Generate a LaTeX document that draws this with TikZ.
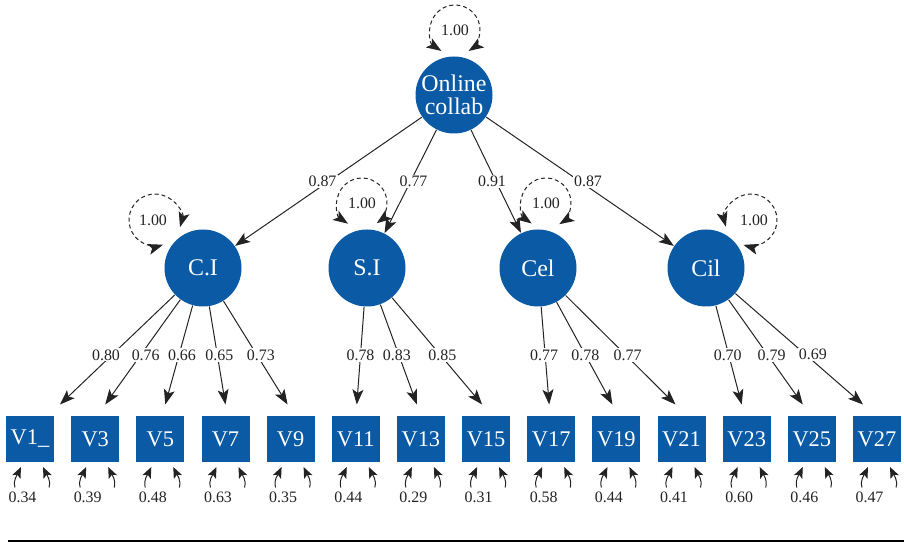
\documentclass[tikz,border=0pt]{standalone}
\usepackage{fontspec}
\setmainfont{Liberation Serif}
\usepackage{xcolor}
\usepackage{tikz}
\usetikzlibrary{arrows.meta,shapes}
\definecolor{nodeblue}{RGB}{10,90,165}
\definecolor{inkgray}{RGB}{35,35,35}

\begin{document}
\begin{tikzpicture}[>={Stealth[length=15bp,width=11bp,inset=3.5bp]}, line join=bevel, line width=1bp, draw=inkgray,
  latent/.style={circle,fill=nodeblue,text=white,minimum size=77bp,inner sep=0pt,font=\fontsize{24}{22.5}\selectfont},
  obs/.style={rectangle,fill=nodeblue,text=white,minimum width=48bp,minimum height=46bp,inner sep=0pt,font=\fontsize{22.5}{22}\selectfont},
  lab/.style={fill=white,inner sep=1.2bp,text=inkgray,font=\fontsize{16}{17}\selectfont},
  varlab/.style={inner sep=0pt,text=inkgray,font=\fontsize{16}{17}\selectfont},
  var/.style={<->,dash pattern=on 4bp off 3bp},
  res/.style={-{Stealth[length=11bp,width=9bp,inset=2.5bp]}}]
\useasboundingbox (0bp,0bp) rectangle (904bp,542bp);
%%
\node (online) at (454bp,447bp) [latent,align=center] {Online\\collab};
  \node (ci) at (203bp,274bp) [latent] {C.I};
  \node (si) at (367bp,274bp) [latent] {S.I};
  \node (cel) at (538bp,274bp) [latent] {Cel};
  \node (cil) at (706bp,274bp) [latent] {Cil};
%
  \node (v1) at (30.0bp,103bp) [obs] {V1\_};
  \node (v3) at (95.2bp,103bp) [obs] {V3};
  \node (v5) at (160.3bp,103bp) [obs] {V5};
  \node (v7) at (225.5bp,103bp) [obs] {V7};
  \node (v9) at (290.6bp,103bp) [obs] {V9};
  \node (v11) at (355.8bp,103bp) [obs] {V11};
  \node (v13) at (420.9bp,103bp) [obs] {V13};
  \node (v15) at (486.1bp,103bp) [obs] {V15};
  \node (v17) at (551.2bp,103bp) [obs] {V17};
  \node (v19) at (616.4bp,103bp) [obs] {V19};
  \node (v21) at (681.5bp,103bp) [obs] {V21};
  \node (v23) at (746.7bp,103bp) [obs] {V23};
  \node (v25) at (811.8bp,103bp) [obs] {V25};
  \node (v27) at (877.0bp,103bp) [obs] {V27};
%
  \draw [->] (online) -- (ci) node [lab,pos=0.5,xshift=-6bp] {0.87};
  \draw [->] (online) -- (si) node [lab,pos=0.5,xshift=3bp] {0.77};
  \draw [->] (online) -- (cel) node [lab,pos=0.5,xshift=-4bp] {0.91};
  \draw [->] (online) -- (cil) node [lab,pos=0.5,xshift=8bp] {0.87};
%
  \draw [->] (ci) -- ([shift={(30bp,11bp)}]v1.north) node [lab,pos=0.547,xshift=-6bp] {0.80};
  \draw [->] (ci) -- ([shift={(10bp,11bp)}]v3.north) node [lab,pos=0.527,xshift=5bp] {0.76};
  \draw [->] (ci) -- ([shift={(5bp,11bp)}]v5.north) node [lab,pos=0.499,xshift=3bp] {0.66};
  \draw [->] (ci) -- ([shift={(0bp,11bp)}]v7.north) node [lab,pos=0.495,xshift=2bp] {0.65};
  \draw [->] (ci) -- ([shift={(-3bp,11bp)}]v9.north) node [lab,pos=0.52,xshift=4bp] {0.73};
  \draw [->] (si) -- ([shift={(1bp,11bp)}]v11.north) node [lab,pos=0.493] {0.78};
  \draw [->] (si) -- ([shift={(-4bp,11bp)}]v13.north) node [lab,pos=0.504,xshift=-2bp] {0.83};
  \draw [->] (si) -- ([shift={(-4bp,11bp)}]v15.north) node [lab,pos=0.535,xshift=2bp] {0.85};
  \draw [->] (cel) -- ([shift={(-2bp,11bp)}]v17.north) node [lab,pos=0.493,xshift=-1bp] {0.77};
  \draw [->] (cel) -- ([shift={(-4bp,11bp)}]v19.north) node [lab,pos=0.515] {0.78};
  \draw [->] (cel) -- ([shift={(-6bp,11bp)}]v21.north) node [lab,pos=0.545,xshift=2bp] {0.77};
  \draw [->] (cil) -- ([shift={(-5bp,11bp)}]v23.north) node [lab,pos=0.498,xshift=-1bp] {0.70};
  \draw [->] (cil) -- ([shift={(-9bp,11bp)}]v25.north) node [lab,pos=0.527,xshift=4bp] {0.79};
  \draw [->] (cil) -- ([shift={(-14bp,11bp)}]v27.north) node [lab,pos=0.552,xshift=7bp] {0.69};
%% variances of the factors
  \coordinate (onlineloop) at (455bp,512bp);
  \coordinate (ciloop) at (155bp,322bp);
  \coordinate (siloop) at (362bp,339bp);
  \coordinate (celloop) at (546bp,339bp);
  \coordinate (cilloop) at (751bp,322bp);
  \draw [var] ([shift={(237:25bp)}]onlineloop) arc [start angle=237, end angle=-57, radius=25bp];
  \draw [var] ([shift={(-16:26bp)}]ciloop) arc [start angle=-16, end angle=288, radius=26bp];
  \draw [var] ([shift={(236:25bp)}]siloop) arc [start angle=236, end angle=-54, radius=25bp];
  \draw [var] ([shift={(235:25bp)}]celloop) arc [start angle=235, end angle=-58, radius=25bp];
  \draw [var] ([shift={(195:26bp)}]cilloop) arc [start angle=195, end angle=-107, radius=26bp];
  \node (onlinevar) at (onlineloop) [varlab] {1.00};
  \node (civar) at ([xshift=-2bp]ciloop) [varlab] {1.00};
  \node (sivar) at (siloop) [varlab] {1.00};
  \node (celvar) at (celloop) [varlab] {1.00};
  \node (cilvar) at ([xshift=3bp]cilloop) [varlab] {1.00};
%% residuals
  \draw [res] ([shift={(-15bp,-25bp)}]v1.south) to[out=105,in=-115] ([shift={(-9bp,-4.5bp)}]v1.south);
  \draw [res] ([shift={(19bp,-25bp)}]v1.south) to[out=75,in=-65] ([shift={(13bp,-4.5bp)}]v1.south);
  \node (e1) at ([shift={(-7.5bp,-35bp)}]v1.south) [varlab] {0.34};
  \draw [res] ([shift={(-15bp,-25bp)}]v3.south) to[out=105,in=-115] ([shift={(-9bp,-4.5bp)}]v3.south);
  \draw [res] ([shift={(19bp,-25bp)}]v3.south) to[out=75,in=-65] ([shift={(13bp,-4.5bp)}]v3.south);
  \node (e3) at ([shift={(-7.5bp,-35bp)}]v3.south) [varlab] {0.39};
  \draw [res] ([shift={(-15bp,-25bp)}]v5.south) to[out=105,in=-115] ([shift={(-9bp,-4.5bp)}]v5.south);
  \draw [res] ([shift={(19bp,-25bp)}]v5.south) to[out=75,in=-65] ([shift={(13bp,-4.5bp)}]v5.south);
  \node (e5) at ([shift={(-7.5bp,-35bp)}]v5.south) [varlab] {0.48};
  \draw [res] ([shift={(-15bp,-25bp)}]v7.south) to[out=105,in=-115] ([shift={(-9bp,-4.5bp)}]v7.south);
  \draw [res] ([shift={(19bp,-25bp)}]v7.south) to[out=75,in=-65] ([shift={(13bp,-4.5bp)}]v7.south);
  \node (e7) at ([shift={(-7.5bp,-35bp)}]v7.south) [varlab] {0.63};
  \draw [res] ([shift={(-15bp,-25bp)}]v9.south) to[out=105,in=-115] ([shift={(-9bp,-4.5bp)}]v9.south);
  \draw [res] ([shift={(19bp,-25bp)}]v9.south) to[out=75,in=-65] ([shift={(13bp,-4.5bp)}]v9.south);
  \node (e9) at ([shift={(-7.5bp,-35bp)}]v9.south) [varlab] {0.35};
  \draw [res] ([shift={(-15bp,-25bp)}]v11.south) to[out=105,in=-115] ([shift={(-9bp,-4.5bp)}]v11.south);
  \draw [res] ([shift={(19bp,-25bp)}]v11.south) to[out=75,in=-65] ([shift={(13bp,-4.5bp)}]v11.south);
  \node (e11) at ([shift={(-7.5bp,-35bp)}]v11.south) [varlab] {0.44};
  \draw [res] ([shift={(-15bp,-25bp)}]v13.south) to[out=105,in=-115] ([shift={(-9bp,-4.5bp)}]v13.south);
  \draw [res] ([shift={(19bp,-25bp)}]v13.south) to[out=75,in=-65] ([shift={(13bp,-4.5bp)}]v13.south);
  \node (e13) at ([shift={(-7.5bp,-35bp)}]v13.south) [varlab] {0.29};
  \draw [res] ([shift={(-15bp,-25bp)}]v15.south) to[out=105,in=-115] ([shift={(-9bp,-4.5bp)}]v15.south);
  \draw [res] ([shift={(19bp,-25bp)}]v15.south) to[out=75,in=-65] ([shift={(13bp,-4.5bp)}]v15.south);
  \node (e15) at ([shift={(-7.5bp,-35bp)}]v15.south) [varlab] {0.31};
  \draw [res] ([shift={(-15bp,-25bp)}]v17.south) to[out=105,in=-115] ([shift={(-9bp,-4.5bp)}]v17.south);
  \draw [res] ([shift={(19bp,-25bp)}]v17.south) to[out=75,in=-65] ([shift={(13bp,-4.5bp)}]v17.south);
  \node (e17) at ([shift={(-7.5bp,-35bp)}]v17.south) [varlab] {0.58};
  \draw [res] ([shift={(-15bp,-25bp)}]v19.south) to[out=105,in=-115] ([shift={(-9bp,-4.5bp)}]v19.south);
  \draw [res] ([shift={(19bp,-25bp)}]v19.south) to[out=75,in=-65] ([shift={(13bp,-4.5bp)}]v19.south);
  \node (e19) at ([shift={(-7.5bp,-35bp)}]v19.south) [varlab] {0.44};
  \draw [res] ([shift={(-15bp,-25bp)}]v21.south) to[out=105,in=-115] ([shift={(-9bp,-4.5bp)}]v21.south);
  \draw [res] ([shift={(19bp,-25bp)}]v21.south) to[out=75,in=-65] ([shift={(13bp,-4.5bp)}]v21.south);
  \node (e21) at ([shift={(-7.5bp,-35bp)}]v21.south) [varlab] {0.41};
  \draw [res] ([shift={(-15bp,-25bp)}]v23.south) to[out=105,in=-115] ([shift={(-9bp,-4.5bp)}]v23.south);
  \draw [res] ([shift={(19bp,-25bp)}]v23.south) to[out=75,in=-65] ([shift={(13bp,-4.5bp)}]v23.south);
  \node (e23) at ([shift={(-7.5bp,-35bp)}]v23.south) [varlab] {0.60};
  \draw [res] ([shift={(-15bp,-25bp)}]v25.south) to[out=105,in=-115] ([shift={(-9bp,-4.5bp)}]v25.south);
  \draw [res] ([shift={(19bp,-25bp)}]v25.south) to[out=75,in=-65] ([shift={(13bp,-4.5bp)}]v25.south);
  \node (e25) at ([shift={(-7.5bp,-35bp)}]v25.south) [varlab] {0.46};
  \draw [res] ([shift={(-15bp,-25bp)}]v27.south) to[out=105,in=-115] ([shift={(-9bp,-4.5bp)}]v27.south);
  \draw [res] ([shift={(19bp,-25bp)}]v27.south) to[out=75,in=-65] ([shift={(13bp,-4.5bp)}]v27.south);
  \node (e27) at ([shift={(-7.5bp,-35bp)}]v27.south) [varlab] {0.47};
%
  \draw [line width=1.3bp,black] (8bp,1bp) -- (904bp,1bp);
%
\end{tikzpicture}
\end{document}
